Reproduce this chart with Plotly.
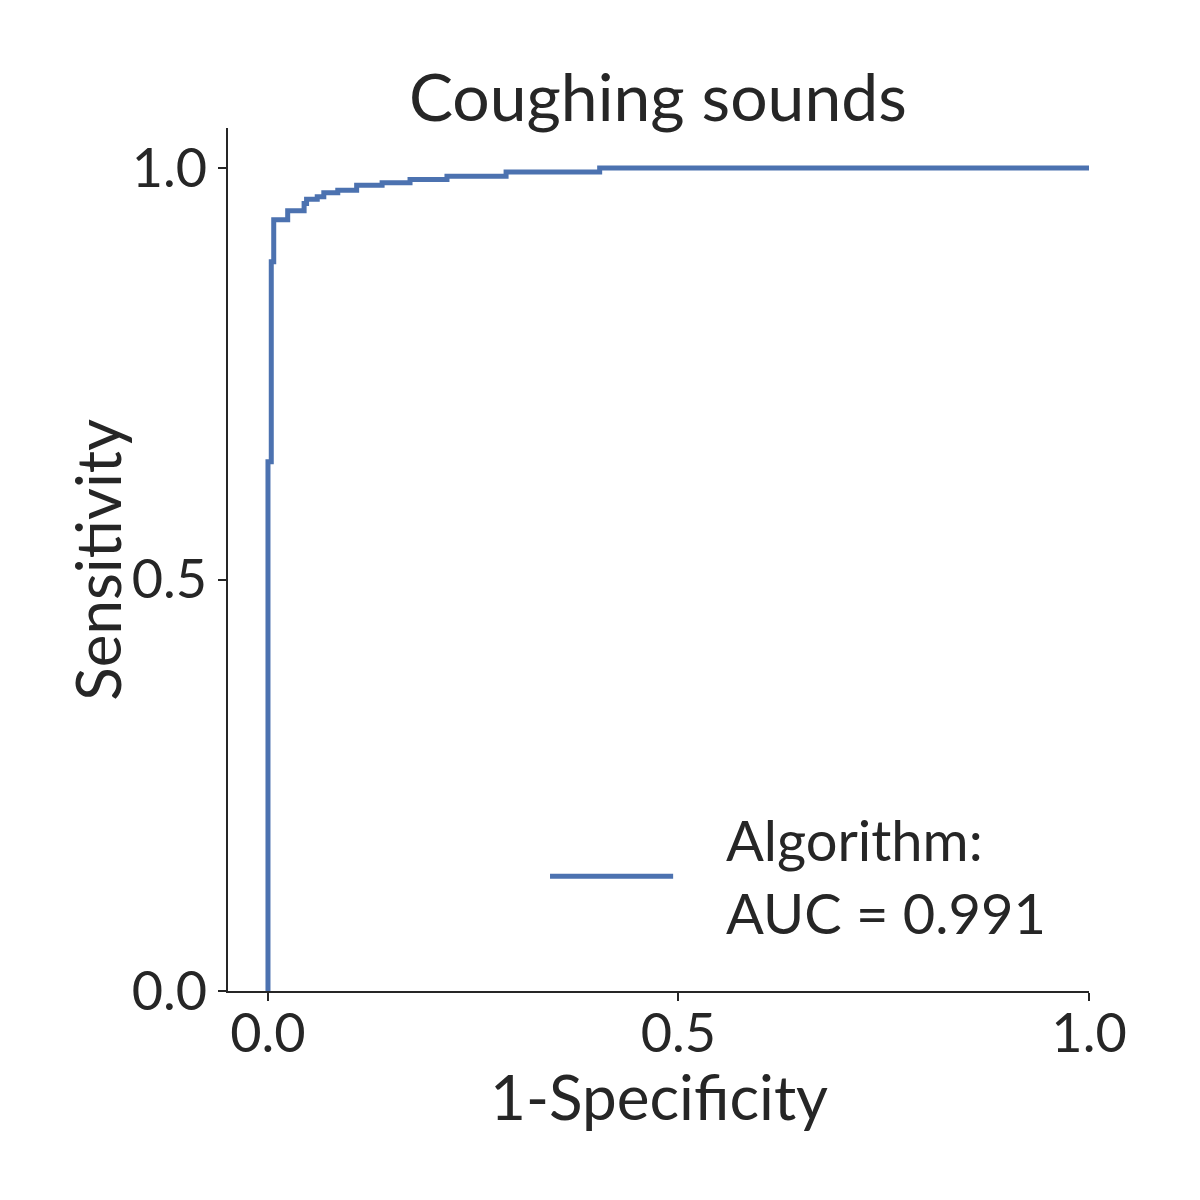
import plotly.graph_objects as go

# ROC step curve points (1-specificity, sensitivity)
fpr = [0.0, 0.0, 0.004, 0.004, 0.007, 0.007, 0.024, 0.024, 0.044, 0.044, 0.047, 0.047,
       0.060, 0.060, 0.068, 0.068, 0.085, 0.085, 0.108, 0.108, 0.139, 0.139, 0.173, 0.173,
       0.218, 0.218, 0.290, 0.290, 0.404, 0.404, 1.0]
tpr = [0.0, 0.643, 0.643, 0.886, 0.886, 0.937, 0.937, 0.948, 0.948, 0.957, 0.957, 0.962,
       0.962, 0.965, 0.965, 0.970, 0.970, 0.973, 0.973, 0.979, 0.979, 0.982, 0.982, 0.986,
       0.986, 0.990, 0.990, 0.995, 0.995, 1.0, 1.0]
tick_vals = [0.0, 0.5, 1.0]
tick_text = ["0.0", "0.5", "1.0"]
title_text = "Coughing sounds"
x_title = "1-Specificity"
y_title = "Sensitivity"
legend_text = "Algorithm:<br>AUC = 0.991"

FONT = "Lato"
TXT = "#262626"
BLUE = "#4C72B0"

fig = go.Figure()
fig.add_trace(go.Scatter(x=fpr, y=tpr, mode="lines",
                         line=dict(color=BLUE, width=5), showlegend=False,
                         hoverinfo="skip"))

axis_common = dict(showgrid=False, zeroline=False, showline=True, linecolor=TXT,
                   linewidth=2, ticks="outside", ticklen=8, tickwidth=2,
                   tickcolor=TXT, tickfont=dict(family=FONT, size=54, color=TXT),
                   tickvals=tick_vals, ticktext=tick_text)

fig.update_layout(
    width=1200, height=1200,
    paper_bgcolor="white", plot_bgcolor="white",
    margin=dict(l=228, r=111, t=128, b=209),
    title=dict(text=title_text, x=0.5482, xanchor="center", y=1 - 98 / 1200,
               yanchor="middle", font=dict(family=FONT, size=66, color=TXT)),
    xaxis=dict(range=[-0.0487, 1.0], ticklabelstandoff=-14, **axis_common),
    yaxis=dict(range=[0, 1.0486], ticklabelstandoff=0, **axis_common),
    shapes=[dict(type="line", xref="paper", yref="paper", x0=0.374, x1=0.517,
                 y0=0.133, y1=0.133, line=dict(color=BLUE, width=5))],
    annotations=[
        dict(text=legend_text, xref="paper", yref="paper", x=0.576, y=0.133,
             xanchor="left", yanchor="middle", align="left", showarrow=False,
             font=dict(family=FONT, size=56, color=TXT)),
        dict(text=x_title, xref="paper", yref="paper", x=0.5, y=-0.122,
             xanchor="center", yanchor="middle", showarrow=False,
             font=dict(family=FONT, size=62, color=TXT)),
        dict(text=y_title, xref="paper", yref="paper", x=-0.153, y=0.5,
             xanchor="center", yanchor="middle", textangle=-90, showarrow=False,
             font=dict(family=FONT, size=62, color=TXT)),
    ],
)

fig.write_html("out.html")
